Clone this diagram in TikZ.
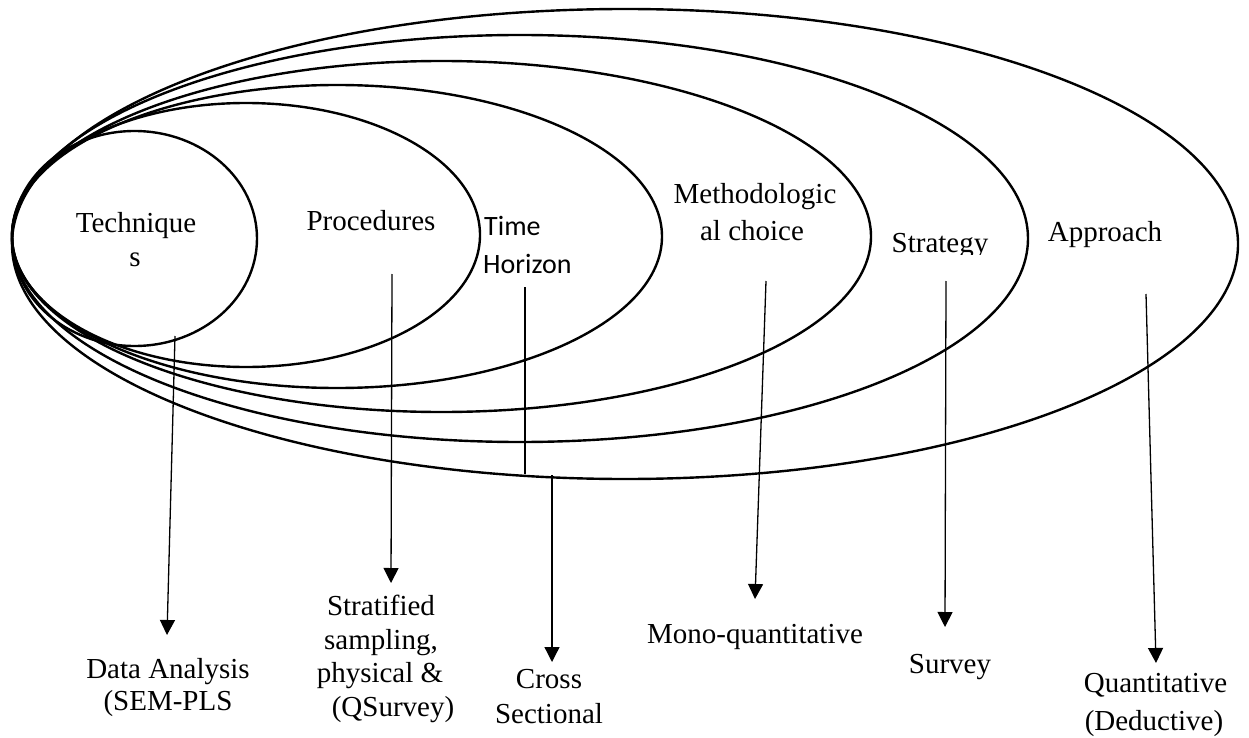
\documentclass[tikz,border=0pt]{standalone}
\usepackage{fontspec}
\setmainfont{Liberation Serif}
\newfontfamily\calibrifont{Carlito}
\usetikzlibrary{arrows.meta}
\begin{document}
\begin{tikzpicture}[x=1pt,y=-1pt,
  ring/.style={line width=2.4pt},
  pointer/.style={line width=1.3pt,-{Triangle[width=15pt,length=15pt]}},
  plain/.style={line width=1.3pt},
  lbl/.style={inner sep=0pt,anchor=base,font=\fontsize{29}{33}\selectfont},
  sanslbl/.style={inner sep=0pt,anchor=base west,font=\calibrifont\fontsize{28}{34}\selectfont}]
\useasboundingbox (0,0) rectangle (1249,738);

% nested layers, all touching on the left
\draw[ring] (134.5,238.5) ellipse [x radius=122.5, y radius=107.5];
\draw[ring] (246,235)     ellipse [x radius=234,   y radius=132];
\draw[ring] (337,236.5)   ellipse [x radius=325,   y radius=151.5];
\draw[ring] (441.5,236.5) ellipse [x radius=429.5, y radius=175.5];
\draw[ring] (520,238.5)   ellipse [x radius=508,   y radius=203.5];
\draw[ring] (625,244)     ellipse [x radius=613,   y radius=235];

% layer names
\node[lbl] (tech1) at (136,232) {Technique};
\node[lbl] (tech2) at (135,266) {s};
\node[lbl] (proc) at (371,230) {Procedures};
\node[sanslbl] (time1) at (484,235) {Time};
\node[sanslbl] (time2) at (483,273) {Horizon};
\node[lbl] (meth1) at (755,204) {Methodologic};
\node[lbl] (meth2) at (752,240) {al choice};
\begin{scope}
  \clip (880,215) rectangle (1000,254.5);
  \node[lbl] (strat) at (940,252) {Strategy};
\end{scope}
\node[lbl] (appr) at (1105,241) {Approach};

% choices made in each layer
\node[lbl] (techA) at (168,678) {Data Analysis};
\node[lbl] (techB) at (168,710) {(SEM-PLS};
\node[lbl] (procA) at (381,615) {Stratified};
\node[lbl] (procB) at (381,649) {sampling,};
\node[lbl] (procC) at (380,682) {physical \&};
\node[lbl] (procD) at (393,716) {(QSurvey)};
\node[lbl] (timeA) at (549,688) {Cross};
\node[lbl] (timeB) at (549,723) {Sectional};
\node[lbl] (methA) at (755,643) {Mono-quantitative};
\node[lbl] (stratA) at (950,673) {Survey};
\node[lbl] (apprA) at (1155.5,692) {Quantitative};
\node[lbl] (apprB) at (1154,730) {(Deductive)};

% connector end points
\coordinate (techS) at (175,336);   \coordinate (techT) at (167,635);
\coordinate (procS) at (392,274);   \coordinate (procT) at (391,583);
\coordinate (timeS) at (525,287);   \coordinate (timeE) at (525,474);
\coordinate (crossS) at (552,475);  \coordinate (crossT) at (552,662);
\coordinate (methS) at (766,281);   \coordinate (methT) at (755,599);
\coordinate (stratS) at (946,281);  \coordinate (stratT) at (945,627);
\coordinate (apprS) at (1146,294);  \coordinate (apprT) at (1156,663);

\draw[pointer] (techS) -- (techT);
\draw[pointer] (procS) -- (procT);
\draw[plain] (timeS) -- (timeE);
\draw[pointer] (crossS) -- (crossT);
\draw[pointer] (methS) -- (methT);
\draw[pointer] (stratS) -- (stratT);
\draw[pointer] (apprS) -- (apprT);
\end{tikzpicture}
\end{document}
